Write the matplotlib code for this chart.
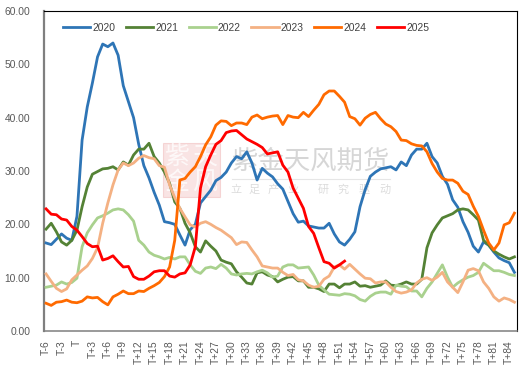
import matplotlib
matplotlib.use("Agg")
import matplotlib.pyplot as plt
from matplotlib.patches import Rectangle

plt.rcParams["font.family"] = ["Liberation Sans", "Noto Sans CJK SC", "DejaVu Sans"]

years = ["2020", "2021", "2022", "2023", "2024", "2025"]
colors = ["#2E75B6", "#548235", "#A9D18E", "#F4B183", "#FF6A00", "#FF0000"]

y2020 = [16.5, 16.2, 17.2, 18.2, 17.4, 17, 21.5, 35.8, 42, 46.5, 51.4, 53.8, 53.3, 54, 51.7, 46,
         43, 40, 35, 31, 28.7, 26, 23.6, 20.5, 20.3, 20, 18, 16.1, 19, 20, 24, 25.2, 26.4, 28.2,
         28.8, 29.8, 31.5, 32.7, 32.3, 33.6, 31.5, 28.3, 30.5, 29.6, 28.9, 27.6, 26.6, 24.3, 22,
         20.4, 20.6, 19.7, 19.5, 19.3, 19.3, 20.2, 18.2, 16.7, 16.1, 17.2, 18.6, 23.3, 26.5, 29,
         29.8, 30.4, 30.6, 30.8, 30.2, 31.7, 31, 33, 34.1, 34.1, 35.2, 32.7, 31.5, 29, 27.5, 24.6,
         23.2, 20.5, 18.5, 15.9, 14.8, 16.7, 16.1, 14.8, 13.7, 13.2, 12.8, 11]
y2021 = [19.1, 20.2, 18.6, 16.7, 16.1, 17, 18.9, 23.3, 27, 29.4, 29.9, 30.4, 30.5, 30.8, 30.2, 31.7,
         31.1, 33, 34.1, 34.1, 35.2, 32.7, 31.5, 29.8, 27.7, 24.2, 23, 20.2, 18.4, 15.8, 14.8, 16.9,
         15.9, 15, 13.3, 12.9, 12.6, 11.1, 10.1, 9, 8.8, 10.9, 11.1, 10.5, 10.2, 9.2, 9.7, 10.1,
         10.2, 9.4, 9.4, 8.2, 8.2, 7.9, 7.4, 8.8, 8.8, 8.1, 8.8, 8.8, 9.2, 8.4, 8.5, 8.2, 8.4, 8.6,
         9.4, 8.6, 8.5, 8.8, 9.2, 8.8, 8.8, 9.7, 15.6, 18.4, 19.9, 21.2, 21.6, 22, 22.7, 22.9, 22.7,
         21.8, 20.8, 17, 16.1, 15, 14.4, 13.9, 13.5, 13.9]
y2022 = [8.2, 8.4, 8.6, 9.2, 8.8, 9.1, 9.9, 15.8, 18.4, 19.9, 21.2, 21.6, 22.1, 22.7, 22.9, 22.7,
         21.8, 20.6, 17, 16.1, 14.8, 14.2, 13.9, 13.5, 13.8, 13.5, 13.9, 13.9, 12.4, 11.2, 10.8,
         11.8, 12, 11.7, 12.5, 11.8, 10.7, 10.5, 10.7, 10.8, 10.7, 11.1, 11.4, 10.9, 10.1, 10.3,
         12, 12.4, 12.4, 11.8, 11.9, 12, 10.5, 8.6, 7.7, 6.9, 6.8, 6.7, 7, 6.9, 6.6, 5.9, 5.6, 6.5,
         7.1, 7.3, 7.3, 6.9, 8.6, 8.4, 8.3, 7.5, 7.5, 6.4, 8, 9.2, 10.8, 12.4, 10.1, 8.2, 9, 9.6,
         10.1, 10.4, 11, 12.7, 12, 11.3, 11.3, 11, 10.6, 10.4]
y2023 = [10.7, 9.3, 8, 7.4, 7.9, 9.6, 10.5, 11.4, 12.2, 13.6, 15.6, 20.2, 24, 27.4, 30.2, 31.5, 31,
         31.5, 32.4, 32.9, 32.5, 32.3, 31, 30.7, 27.4, 25, 23, 21.4, 19.9, 19.5, 20.2, 20.5, 20,
         19.4, 18.9, 18.2, 17.5, 16.2, 16.7, 16.6, 15.2, 13.9, 12.2, 12, 11.8, 11.8, 11, 10.4,
         10.6, 9.6, 9.4, 8.6, 8.2, 8.4, 9.7, 10.3, 12, 12.4, 11.6, 12.5, 11.6, 10.7, 9.9, 9.8, 9,
         9.2, 9.2, 8.2, 7.4, 7.1, 7.3, 7.7, 9, 9.7, 10, 9.5, 10.1, 11, 9.2, 8.2, 7.2, 9.2, 11.4,
         11.7, 11.3, 9.2, 8, 6.4, 5.6, 6.2, 5.9, 5.4]
y2024 = [5.2, 4.8, 5.4, 5.5, 5.8, 5.4, 5.3, 5.6, 6.4, 6.2, 6.3, 5.5, 4.9, 6.4, 6.9, 7.5, 7, 7, 7.5,
         7.4, 8, 8.5, 9.1, 10.2, 12, 17, 28.3, 28.6, 29.8, 30.8, 32.7, 34.9, 36.4, 38.6, 39.4, 39.3,
         38.5, 39, 39, 38.7, 40.1, 40.5, 39.8, 40.1, 40.3, 40.4, 38.7, 40.4, 40.1, 40, 41, 40.2,
         41.4, 42.5, 44.3, 45, 45, 44, 42.9, 40.2, 39.8, 38.6, 39.9, 40.6, 41, 39.8, 38.8, 38.3,
         37.4, 35.8, 35.7, 35.1, 34.8, 34.7, 33.6, 31.4, 29.8, 28.6, 28.3, 28.3, 27.7, 26.2, 25.6,
         23.4, 21.5, 18.9, 16.5, 15.2, 16.5, 19.9, 20.3, 22.1]
y2025 = [22.9, 21.9, 21.8, 21, 20.8, 19.6, 18.9, 17.7, 16.4, 15.8, 15.9, 13.3, 13.6, 14.1, 13, 12,
         12.1, 10.2, 9.7, 9.7, 10.3, 11.1, 11.3, 11.3, 10.3, 10.1, 10.7, 10.9, 12.4, 15.8, 26.8,
         30.8, 33, 35, 35.7, 37.2, 37.5, 37.6, 36.8, 36, 35.5, 35, 34.4, 33.2, 33.4, 33.6, 31.1,
         29.8, 26.8, 24.9, 23, 19.6, 18.3, 15.6, 13, 12.7, 11.8, 12.4, 13.1]
series = [y2020, y2021, y2022, y2023, y2024, y2025]

tick_labels = ["T-6", "T-3", "T"] + [f"T+{n}" for n in range(3, 85, 3)]
yticks = [0, 10, 20, 30, 40, 50, 60]
sub_chars = ["立", "足", "产", "业", "研", "究", "驱", "动"]
sub_x = [236, 254, 273, 293, 323, 343, 364, 385]

fig = plt.figure(figsize=(5.23, 3.70), dpi=100)
ax = fig.add_axes([43.5 / 523, 1 - 331 / 370, 473.5 / 523, 320 / 370])

for name, vals, c in zip(years, series, colors):
    ax.plot(range(len(vals)), vals, color=c, lw=2.0, label=name, solid_joinstyle="round", zorder=3)

ax.set_xlim(-0.5, 91.5)
ax.set_ylim(0, 60)
ax.set_yticks(yticks)
ax.set_yticklabels([f"{v:.2f}" for v in yticks], fontsize=7.4, color="#595959")
ax.set_xticks(range(0, 91, 3))
ax.set_xticklabels(tick_labels, rotation=90, fontsize=7.4, color="#595959")
ax.tick_params(axis="y", length=0, pad=9.5)
ax.tick_params(axis="x", length=0, pad=6.5)
for s in ["top", "right"]:
    ax.spines[s].set_linewidth(0.8)
    ax.spines[s].set_color("black")
ax.spines["left"].set_linewidth(1.6)
ax.spines["left"].set_color("#7f7f7f")
ax.spines["bottom"].set_linewidth(1.1)
ax.spines["bottom"].set_color("#7f7f7f")

ax.legend(loc="upper left", bbox_to_anchor=(0.0415, 0.9625), ncol=6, frameon=False, fontsize=7.4,
          labelcolor="#404040", handlelength=2.66, columnspacing=1.01, handletextpad=0.2,
          borderpad=0, borderaxespad=0)

# watermark, sits under the lines
tr = fig.transFigure
ax.add_patch(Rectangle((163 / 523, 1 - 197 / 370), 57 / 523, 54 / 370, transform=tr,
                       facecolor="#f2c4c4", alpha=0.45, edgecolor="#eeb0b0", lw=0.8, zorder=1))
for ch, px, py in [("紫", 177, 157), ("天", 205, 157), ("金", 177, 183), ("风", 205, 183)]:
    ax.text(px / 523, 1 - py / 370, ch, transform=tr, fontsize=18, color="white", alpha=0.75,
            ha="center", va="center", zorder=1.5)
ax.text(311 / 523, 1 - 161 / 370, "紫金天风期货", transform=tr, fontsize=19, color="#8c8c8c", alpha=0.35,
        ha="center", va="center", zorder=1)
ax.plot([232 / 523, 390 / 523], [1 - 179 / 370] * 2, transform=tr, color="#e6e6e6", lw=0.8, zorder=1)
for ch, px in zip(sub_chars, sub_x):
    ax.text(px / 523, 1 - 190 / 370, ch, transform=tr, fontsize=8, color="#8c8c8c", alpha=0.3,
            ha="center", va="center", zorder=1)

fig.savefig("out.png", dpi=100)
plt.close(fig)
